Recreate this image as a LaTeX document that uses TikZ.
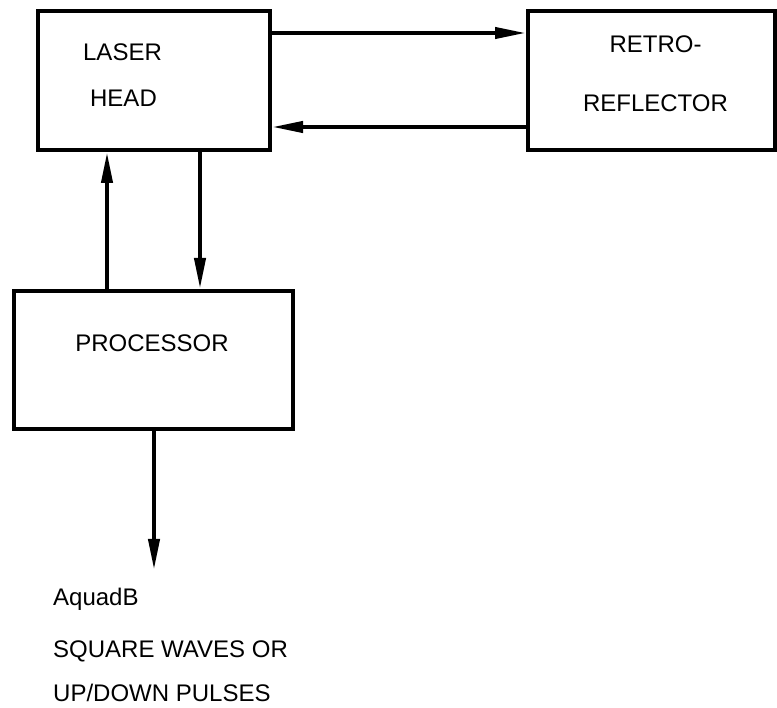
\documentclass[tikz,border=0pt]{standalone}
\usepackage{fontspec}
\setmainfont{Liberation Sans}
\usetikzlibrary{arrows.meta}
\begin{document}
\begin{tikzpicture}[x=1pt,y=-1pt,
  box/.style={draw,line width=4pt,minimum width=#1,inner sep=0pt},
  lbl/.style={inner sep=0pt,font=\fontsize{24}{28}\selectfont},
  arr/.style={line width=4pt,-{Triangle[length=31pt,width=11pt]}}]
\useasboundingbox (0,0) rectangle (777,708);
\node[box=232pt,minimum height=139pt] (laser) at (154,80.5) {};
\node[box=247pt,minimum height=139pt] (retro) at (651.5,80.5) {};
\node[box=279pt,minimum height=138pt] (proc) at (153.5,360) {};
\node[lbl,anchor=base] (t1) at (122.5,60.7) {LASER};
\node[lbl,anchor=base] (t2) at (123.5,107) {HEAD};
\node[lbl,anchor=base] (t3) at (655.5,52.7) {RETRO-};
\node[lbl,anchor=base] (t4) at (655.5,111.7) {REFLECTOR};
\node[lbl,anchor=base] (t5) at (152,351.7) {PROCESSOR};
\node[lbl,anchor=base west] (o1) at (53,605) {AquadB};
\node[lbl,anchor=base west] (o2) at (53,657) {SQUARE WAVES OR};
\node[lbl,anchor=base west] (o3) at (53,701.7) {UP/DOWN PULSES};
\coordinate (outend) at (154,570);
\path ([yshift=47.5pt]laser.east) coordinate (ta);
\path ([yshift=-46.5pt]laser.east) coordinate (tb);
\path ([xshift=-47pt]laser.south) coordinate (ua);
\path ([xshift=46pt]laser.south) coordinate (da);
\draw[arr] (ta) -- (ta -| retro.west);
\draw[arr] (tb -| retro.west) -- (tb);
\draw[arr] (ua |- proc.north) -- (ua);
\draw[arr] (da) -- (da |- proc.north);
\draw[arr] (proc.south -| outend) -- (outend);
\end{tikzpicture}
\end{document}
